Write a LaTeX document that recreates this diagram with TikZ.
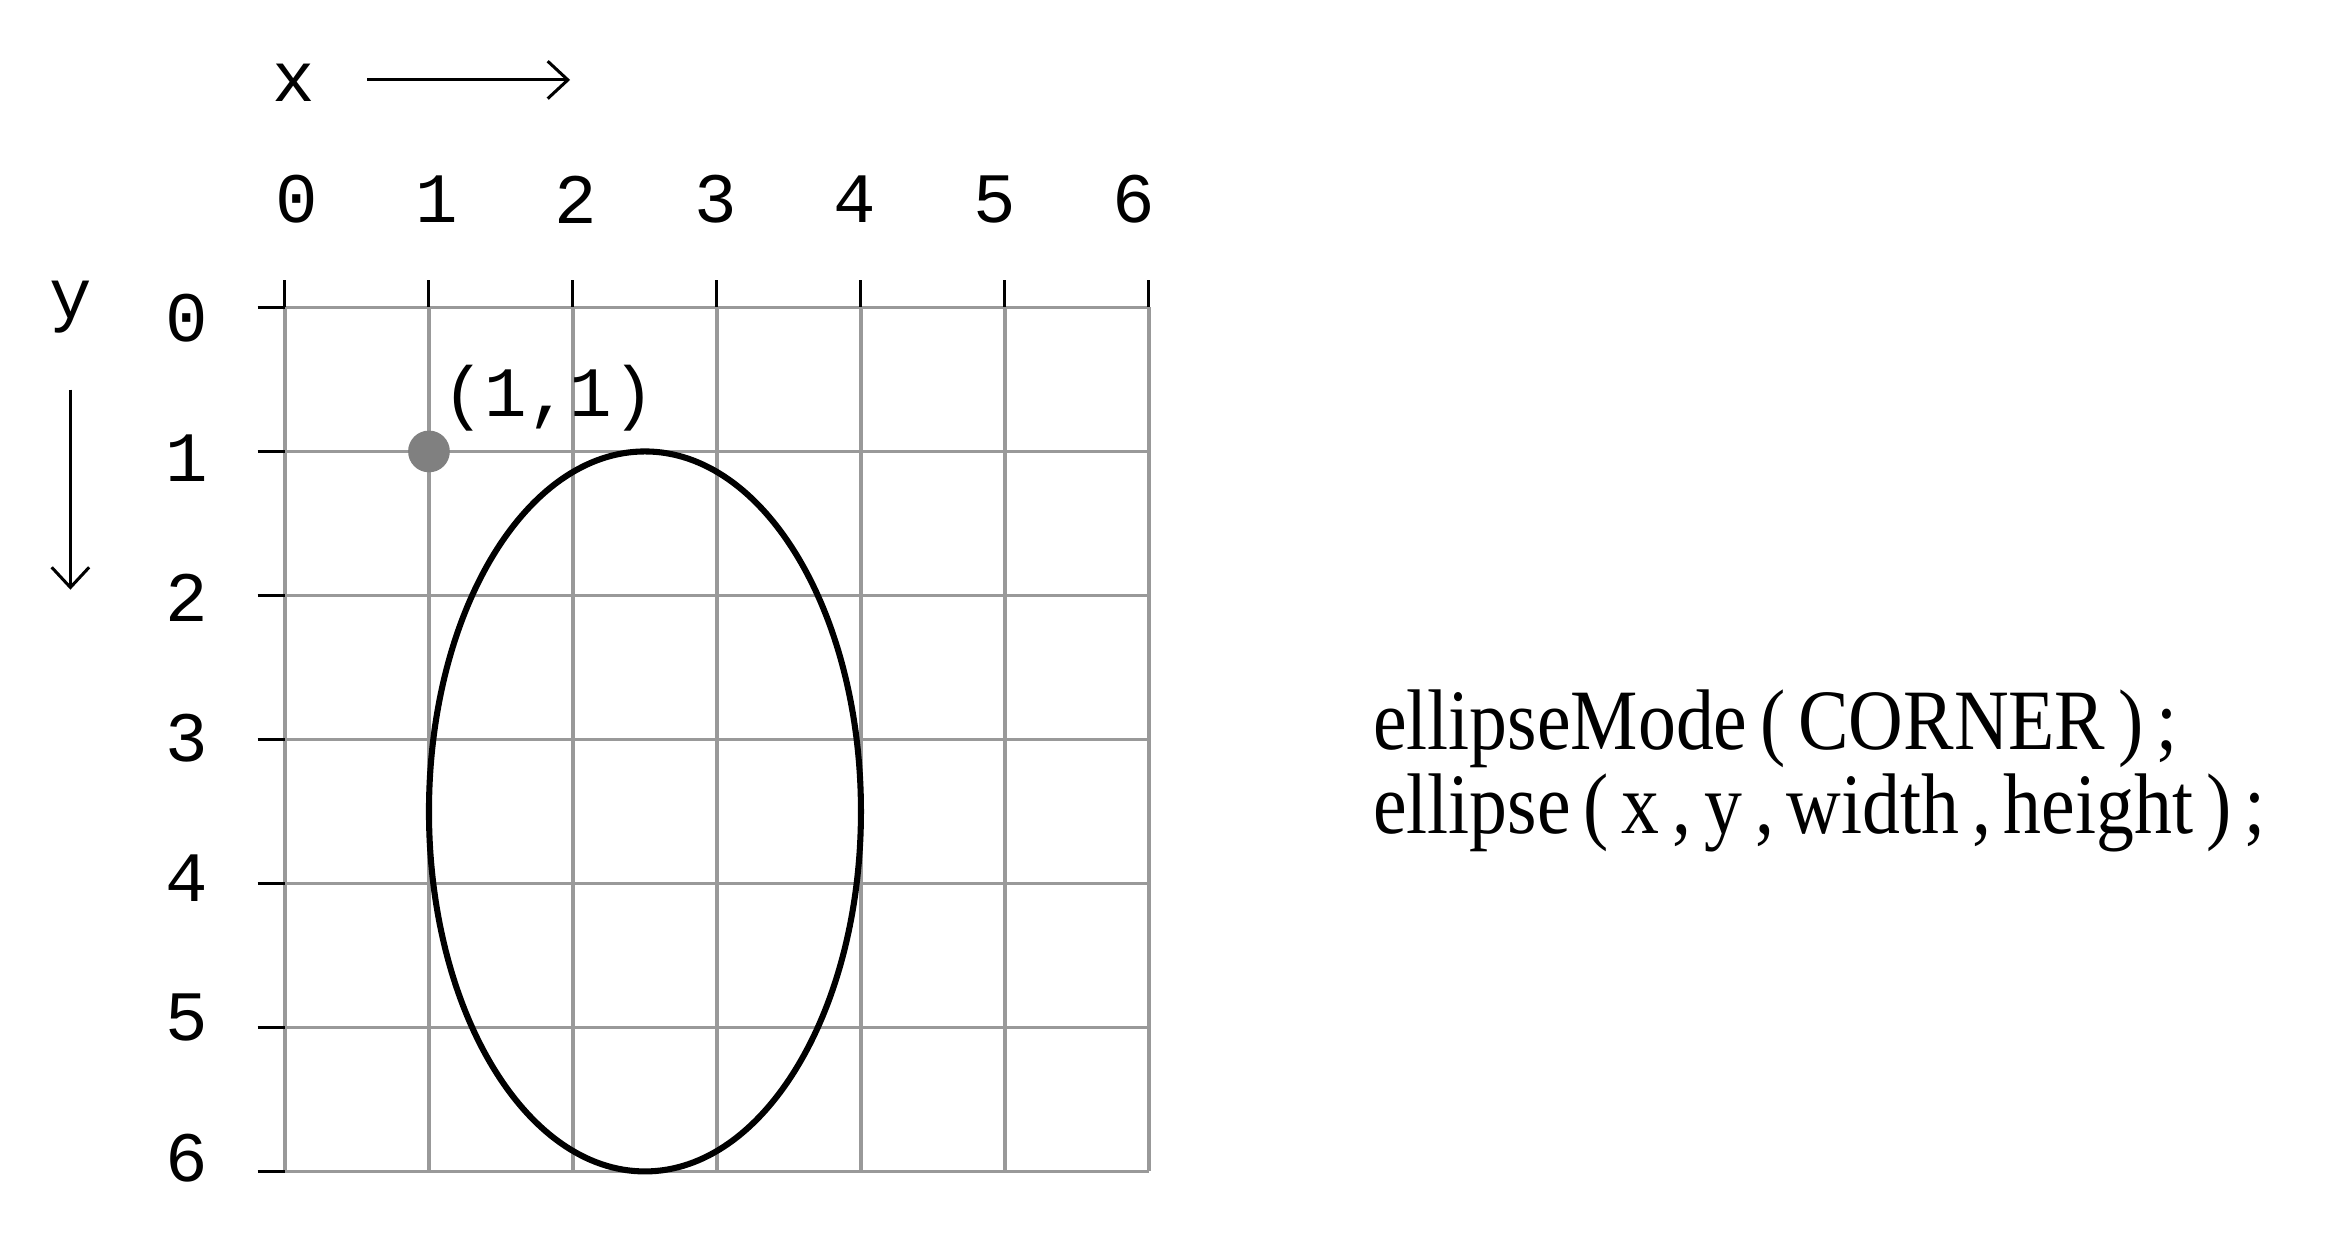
\documentclass[tikz,border=0pt]{standalone}
\usepackage{fontspec}
\usepackage{graphicx}
\setmainfont{Liberation Serif}
\newfontfamily\numfont{Liberation Mono}
\usetikzlibrary{arrows.meta}

\begin{document}
\begin{tikzpicture}[y=-1cm,
    gridline/.style={draw=black!40,line width=0.7pt},
    tick/.style={line width=0.6pt},
    axisarrow/.style={line width=0.6pt,-{Straight Barb[length=1.4mm,width=2.6mm]}},
    numlabel/.style={font=\numfont\fontsize{14}{14}\selectfont,inner sep=0pt},
    codeline/.style={anchor=base west,inner sep=0pt,font=\fontsize{17}{17}\selectfont}]
    \useasboundingbox (-1.979,-2.135) rectangle (14.285,6.587);
    \draw[gridline] (0,0) grid (6,6);
    \foreach \i in {0,...,6} {
        \draw[tick] (\i,-0.19)--(\i,0);
        \draw[tick] (-0.19,\i)--(0,\i);
        \node[numlabel] (xnum\i) at ({0.083+0.969*\i},-0.75) {\i};
        \node[numlabel] (ynum\i) at (-0.68,{0.073+0.972*\i}) {\i};
    }
    \node[numlabel] (xname) at (0.06,-1.56) {x};
    \coordinate (xstart) at (0.57,-1.58);
    \coordinate (xend) at (1.98,-1.58);
    \draw[axisarrow] (xstart)--(xend);
    \node[numlabel] (yname) at (-1.49,0.0) {y};
    \coordinate (ystart) at (-1.49,0.57);
    \coordinate (yend) at (-1.49,1.96);
    \draw[axisarrow] (ystart)--(yend);
    \node[circle,fill=black!50,minimum size=0.29cm,inner sep=0pt] (corner) at (1,1) {};
    \node[numlabel] (cornerlabel) at (1.83,0.63) {(1,1)};
    \draw[line width=1.2pt] (2.5,3.5) ellipse (1.5 and 2.5);
    \node[codeline] (modeline) at (7.55,3.07) {\scalebox{0.88}[1]{\spaceskip=0.17em ellipseMode ( CORNER ) ;}};
    \node[codeline] (callline) at (7.55,3.65) {\scalebox{0.88}[1]{\spaceskip=0.17em ellipse ( x , y , width , height ) ;}};
\end{tikzpicture}
\end{document}
